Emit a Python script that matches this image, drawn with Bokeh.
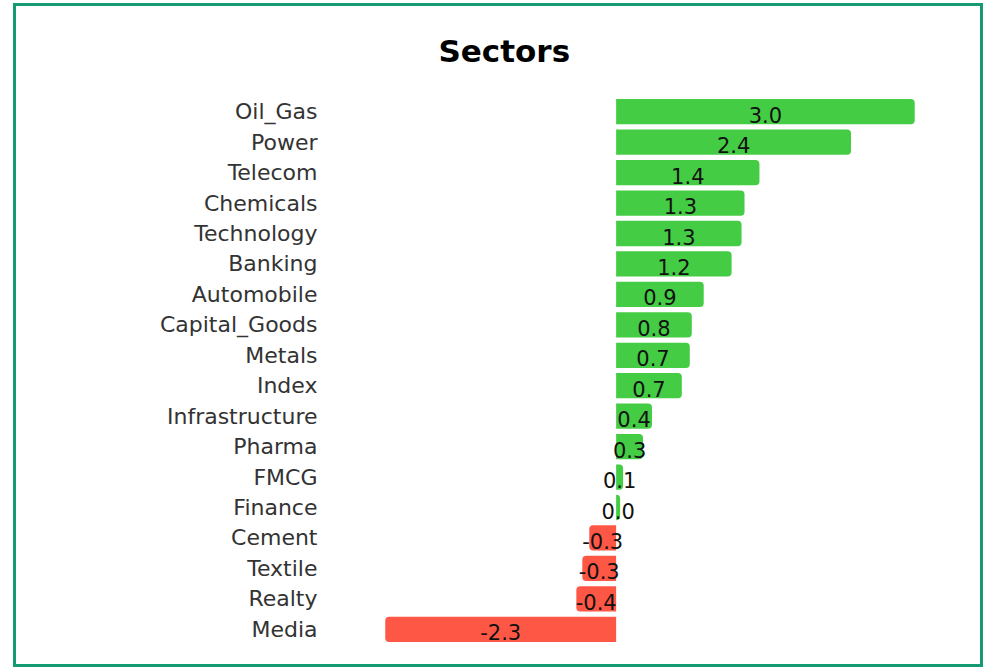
from bokeh.plotting import figure
from bokeh.models import ColumnDataSource, FactorRange, Range1d
from bokeh.core.properties import value
from bokeh.embed import file_html
from bokeh.resources import INLINE

# ---- data ----
sectors = ["Oil_Gas", "Power", "Telecom", "Chemicals", "Technology", "Banking",
           "Automobile", "Capital_Goods", "Metals", "Index", "Infrastructure",
           "Pharma", "FMCG", "Finance", "Cement", "Textile", "Realty", "Media"]
changes = [3.0, 2.36, 1.44, 1.29, 1.26, 1.16, 0.88, 0.76, 0.74, 0.66, 0.36,
           0.27, 0.07, 0.04, -0.27, -0.34, -0.40, -2.32]
title_text = "Sectors"

GREEN = "#44cc44"
RED = "#ff5745"
FONT = "DejaVu Sans"

pos = [(s, v) for s, v in zip(sectors, changes) if v >= 0]
neg = [(s, v) for s, v in zip(sectors, changes) if v < 0]
src_pos = ColumnDataSource(dict(sector=[s for s, _ in pos], val=[v for _, v in pos]))
src_neg = ColumnDataSource(dict(sector=[s for s, _ in neg], val=[v for _, v in neg]))
src_lab = ColumnDataSource(dict(sector=sectors,
                                mid=[v / 2 for v in changes],
                                txt=[f"{v:.1f}" for v in changes]))

p = figure(width=970, height=664, output_backend="svg", toolbar_location=None,
           y_range=FactorRange(*reversed(sectors), range_padding=0),
           x_range=Range1d(-2.87, 3.46),
           min_border_left=314, min_border_right=26,
           min_border_top=90, min_border_bottom=26)
p.styles = {"border": "3px solid #149b73"}
p.margin = (3, 0, 0, 13)

p.title.text = title_text
p.title.align = "left"
p.title.offset = 108
p.title.vertical_align = "top"
p.title.standoff = 52
p.title.text_font = FONT
p.title.text_font_size = "31px"
p.title.text_font_style = "bold"
p.title.text_color = "#000000"

p.hbar(y="sector", left=0, right="val", height=0.83, source=src_pos,
       fill_color=GREEN, line_color=None, border_radius=(0, 4, 4, 0))
p.hbar(y="sector", left="val", right=0, height=0.83, source=src_neg,
       fill_color=RED, line_color=None, border_radius=(4, 0, 0, 4))

p.text(x="mid", y="sector", text="txt", source=src_lab,
       text_align="center", text_baseline="middle", y_offset=3,
       text_font=value(FONT), text_font_size="21px", text_color="#111111")

p.xaxis.visible = False
p.yaxis.axis_line_color = None
p.yaxis.major_tick_line_color = None
p.yaxis.minor_tick_line_color = None
p.yaxis.major_label_standoff = 7
p.yaxis.major_label_text_font = FONT
p.yaxis.major_label_text_font_size = "22px"
p.yaxis.major_label_text_color = "#333333"
p.xgrid.visible = False
p.ygrid.visible = False
p.outline_line_color = None
p.background_fill_color = "white"
p.border_fill_color = "white"

open("out.html", "w").write(file_html(p, INLINE))
